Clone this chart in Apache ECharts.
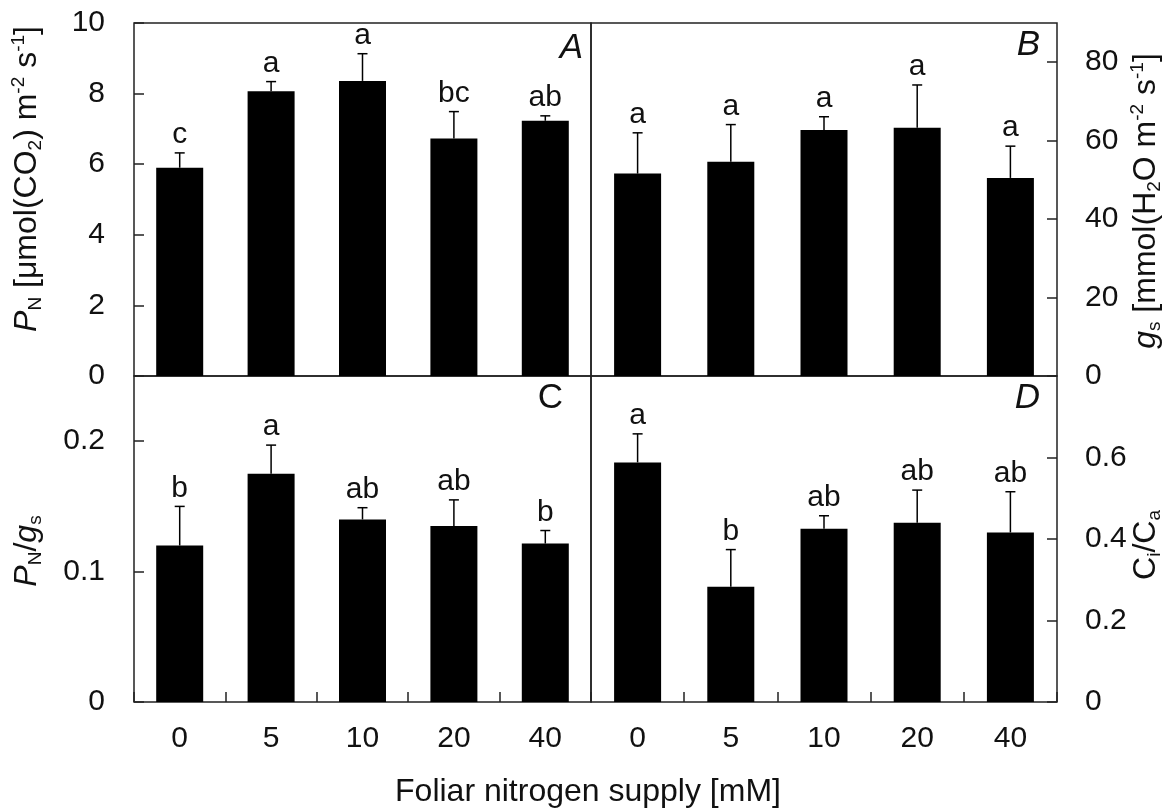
<!DOCTYPE html>
<html>
<head>
<meta charset="utf-8">
<script src="https://cdn.jsdelivr.net/npm/echarts@6/dist/echarts.min.js"></script>
<style>
  html, body { margin: 0; padding: 0; background: #fff; }
  #chart { width: 1170px; height: 811px; }
</style>
</head>
<body>
<div id="chart"></div>
<script>
// Foliar nitrogen supply levels [mM]
const categories = ['0', '5', '10', '20', '40'];

// A: net photosynthetic rate P_N
const pnMean = [5.90, 8.07, 8.36, 6.73, 7.23];
const pnErr = [0.42, 0.27, 0.77, 0.76, 0.14];
const pnLetters = ['c', 'a', 'a', 'bc', 'ab'];

// B: stomatal conductance g_s
const gsMean = [51.6, 54.6, 62.7, 63.3, 50.5];
const gsErr = [10.4, 9.5, 3.4, 10.9, 8.1];
const gsLetters = ['a', 'a', 'a', 'a', 'a'];

// C: intrinsic water use efficiency P_N/g_s
const wueMean = [0.120, 0.175, 0.140, 0.135, 0.1215];
const wueErr = [0.030, 0.022, 0.009, 0.020, 0.010];
const wueLetters = ['b', 'a', 'ab', 'ab', 'b'];

// D: ratio of intercellular to ambient CO2 concentration C_i/C_a
const ciMean = [0.588, 0.283, 0.425, 0.440, 0.416];
const ciErr = [0.070, 0.091, 0.032, 0.080, 0.100];
const ciLetters = ['a', 'b', 'ab', 'ab', 'ab'];

const FONT = '"Liberation Sans", Arial, Helvetica, sans-serif';
const INK = '#111';

const chart = echarts.init(document.getElementById('chart'), null, { renderer: 'canvas' });

// error bar (upper whisker with cap) and significance letter above it
function errorBarRenderer(letters) {
  return function (params, api) {
    const i = api.value(0);
    const m = api.value(1);
    const e = api.value(2);
    const base = api.coord([i, m]);
    const top = api.coord([i, m + e]);
    const cap = 5;
    const lineStyle = { stroke: '#000', lineWidth: 1.5 };
    return {
      type: 'group',
      children: [
        { type: 'line', shape: { x1: base[0], y1: base[1], x2: top[0], y2: top[1] }, style: lineStyle },
        { type: 'line', shape: { x1: top[0] - cap, y1: top[1], x2: top[0] + cap, y2: top[1] }, style: lineStyle },
        {
          type: 'text', x: top[0], y: top[1] - 3,
          style: {
            text: letters[params.dataIndex],
            font: '30px ' + FONT,
            fill: INK,
            align: 'center', textAlign: 'center',
            verticalAlign: 'bottom', textVerticalAlign: 'bottom'
          }
        }
      ]
    };
  };
}

const grids = [
  { left: 134, top: 23, width: 457, height: 353 },
  { left: 591, top: 23, width: 466, height: 353 },
  { left: 134, top: 376, width: 457, height: 326 },
  { left: 591, top: 376, width: 466, height: 326 }
].map(g => Object.assign({ show: true, borderColor: '#222', borderWidth: 1.5, backgroundColor: 'transparent' }, g));

function xAxisFor(gridIndex, showLabels) {
  return {
    type: 'category',
    gridIndex: gridIndex,
    data: categories,
    axisLine: { show: false },
    axisTick: { show: showLabels, inside: true, length: 10, lineStyle: { color: '#222', width: 1.5 } },
    axisLabel: { show: showLabels, margin: 22, fontSize: 30, fontFamily: FONT, color: INK },
    splitLine: { show: false }
  };
}

function yAxisFor(gridIndex, position, max, interval) {
  return {
    type: 'value',
    gridIndex: gridIndex,
    position: position,
    min: 0,
    max: max,
    interval: interval,
    axisLine: { show: false },
    axisTick: { show: true, inside: true, length: 10, lineStyle: { color: '#222', width: 1.5 } },
    axisLabel: {
      margin: position === 'left' ? 29 : 28,
      fontSize: 30, fontFamily: FONT, color: INK,
      showMaxLabel: max === 10
    },
    splitLine: { show: false }
  };
}

const panels = [
  { mean: pnMean, err: pnErr, letters: pnLetters },
  { mean: gsMean, err: gsErr, letters: gsLetters },
  { mean: wueMean, err: wueErr, letters: wueLetters },
  { mean: ciMean, err: ciErr, letters: ciLetters }
];

const series = [];
panels.forEach((p, k) => {
  series.push({
    type: 'bar',
    xAxisIndex: k, yAxisIndex: k,
    data: p.mean,
    barWidth: 47,
    itemStyle: { color: '#000' },
    silent: true,
    z: 2
  });
  series.push({
    type: 'custom',
    xAxisIndex: k, yAxisIndex: k,
    data: p.mean.map((m, i) => [i, m, p.err[i]]),
    encode: { x: 0, y: 1 },
    renderItem: errorBarRenderer(p.letters),
    silent: true,
    z: 3
  });
});

const mainRich = { fontSize: 32, fontFamily: FONT, color: INK, lineHeight: 36 };
const rich = {
  t: mainRich,
  it: Object.assign({}, mainRich, { fontStyle: 'italic' }),
  sub: { fontSize: 19, fontFamily: FONT, color: INK, lineHeight: 19, verticalAlign: 'bottom' },
  sup: { fontSize: 19, fontFamily: FONT, color: INK, lineHeight: 19, verticalAlign: 'top' }
};

function axisTitle(x, y, text, rotate) {
  return {
    type: 'text', x: x, y: y, rotation: rotate ? Math.PI / 2 : 0,
    style: {
      text: text, rich: rich,
      font: '32px ' + FONT, fill: INK,
      align: 'center', textAlign: 'center',
      verticalAlign: 'middle', textVerticalAlign: 'middle'
    }
  };
}

function panelTag(x, y, text, italic) {
  return {
    type: 'text', x: x, y: y,
    style: {
      text: text,
      font: (italic ? 'italic ' : '') + '35px ' + FONT, fill: INK,
      align: 'right', textAlign: 'right',
      verticalAlign: 'middle', textVerticalAlign: 'middle'
    }
  };
}

chart.setOption({
  animation: false,
  backgroundColor: '#fff',
  grid: grids,
  xAxis: [xAxisFor(0, false), xAxisFor(1, false), xAxisFor(2, true), xAxisFor(3, true)],
  yAxis: [
    yAxisFor(0, 'left', 10, 2),
    yAxisFor(1, 'right', 90, 20),
    yAxisFor(2, 'left', 0.25, 0.1),
    yAxisFor(3, 'right', 0.8, 0.2)
  ],
  series: series,
  graphic: [
    axisTitle(27, 179, '{it|P}{sub|N}{t| [μmol(CO}{sub|2}{t|) m}{sup|-2}{t| s}{sup|-1}{t|]}', true),
    axisTitle(1146, 201, '{it|g}{sub|s}{t| [mmol(H}{sub|2}{t|O m}{sup|-2}{t| s}{sup|-1}{t|]}', true),
    axisTitle(27, 551, '{it|P}{sub|N}{t|/}{it|g}{sub|s}', true),
    axisTitle(1146, 545, '{t|C}{sub|i}{t|/C}{sub|a}', true),
    axisTitle(588, 792, '{t|Foliar nitrogen supply [mM]}', false),
    panelTag(583, 48, 'A', true),
    panelTag(1040, 45, 'B', true),
    panelTag(563, 398, 'C', false),
    panelTag(1040, 398, 'D', true)
  ]
});
</script>
</body>
</html>
